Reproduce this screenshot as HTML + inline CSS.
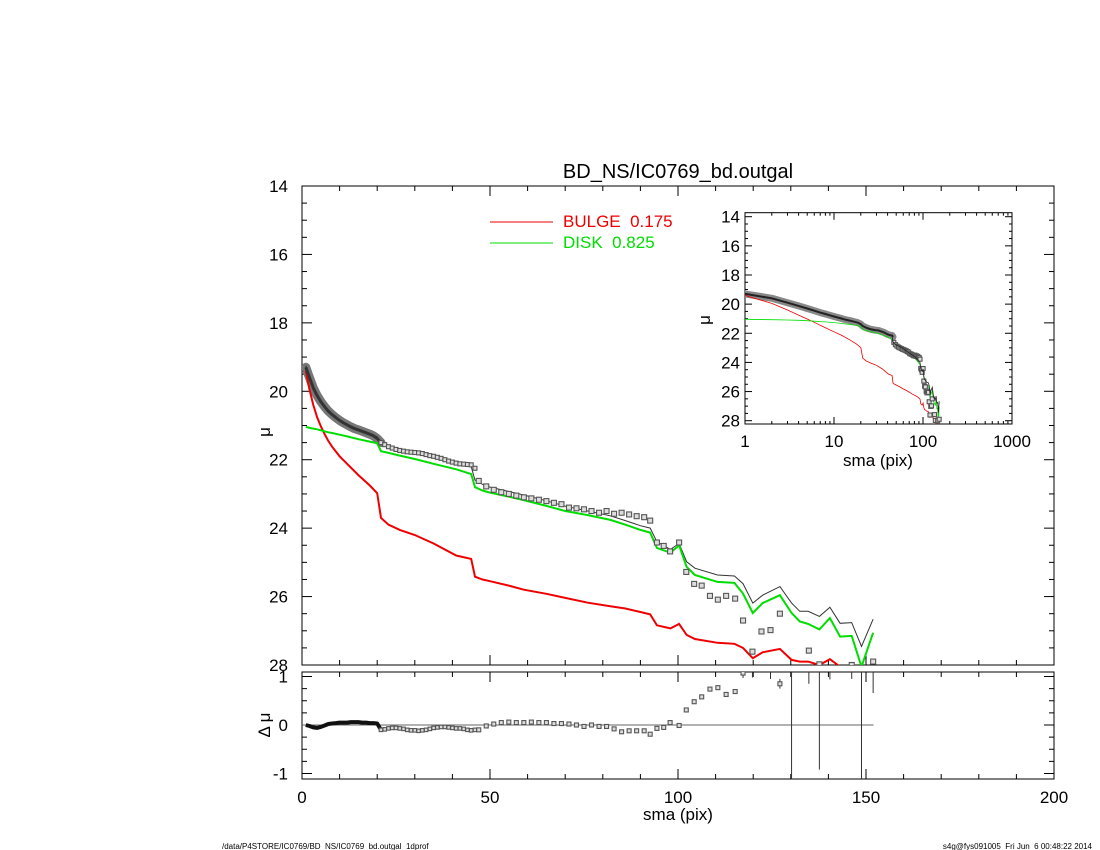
<!DOCTYPE html>
<html><head><meta charset="utf-8">
<style>
html,body{margin:0;padding:0;background:#fff;}
svg{display:block;font-family:"Liberation Sans",sans-serif;}
</style></head>
<body>
<svg id="chart" width="1100" height="850" viewBox="0 0 1100 850" xmlns="http://www.w3.org/2000/svg">
<rect width="1100" height="850" fill="#fff"/>
<text x="678" y="178" font-size="20" text-anchor="middle">BD_NS/IC0769_bd.outgal</text>
<line x1="490" y1="222" x2="553" y2="222" stroke="#e00" stroke-width="1"/>
<text x="563" y="227" font-size="17" fill="#e00">BULGE&#160;&#160;0.175</text>
<line x1="490" y1="243" x2="553" y2="243" stroke="#0d0" stroke-width="1"/>
<text x="563" y="248" font-size="17" fill="#0d0">DISK&#160;&#160;0.825</text>
<text x="270" y="432" font-size="17" text-anchor="middle" transform="rotate(-90 270 432)">μ</text>
<text x="270" y="725" font-size="17" text-anchor="middle" transform="rotate(-90 270 725)">Δ μ</text>
<text x="678" y="820" font-size="17" text-anchor="middle">sma (pix)</text>
<text x="222" y="849" font-size="8">/data/P4STORE/IC0769/BD_NS/IC0769_bd.outgal_1dprof</text>
<text x="1092" y="849" font-size="8" text-anchor="end">s4g@fys091005&#160; Fri Jun&#160; 6 00:48:22 2014</text>
<g id="g"></g>
</svg>
<script>
// model radii and components
const modelR=[1,2,3,4,5,6,7,8,10,12,15,18,20,21,23,26,30,35,41,45,46,48,50,55,59,65,70,76,82,86,90,92.6,94.4,98,100.3,102.3,104.5,110.5,115,117.3,119.9,122.5,127.1,130.2,132.4,134.6,137.6,140.4,143.1,146.2,148.8,151.9];
const bulgeMu=[19.4,19.95,20.4,20.75,21.02,21.25,21.45,21.62,21.9,22.12,22.45,22.75,22.98,23.7,23.9,24.05,24.2,24.45,24.8,24.9,25.42,25.5,25.55,25.68,25.8,25.92,26.04,26.18,26.28,26.35,26.45,26.52,26.84,26.93,26.8,27.12,27.24,27.35,27.38,27.5,27.8,27.63,27.53,27.85,27.9,27.9,28.0,27.83,28.05,28.3,28.5,28.4];
const diskMu=[21.04,21.07,21.09,21.11,21.14,21.17,21.2,21.22,21.27,21.32,21.4,21.47,21.52,21.75,21.8,21.88,21.98,22.12,22.28,22.42,22.8,22.9,22.96,23.08,23.18,23.35,23.5,23.62,23.76,23.9,24.05,24.13,24.58,24.72,24.5,25.13,25.37,25.57,25.6,25.91,26.48,26.19,25.96,26.48,26.73,26.8,26.96,26.63,27.17,27.15,28.05,27.06];
const totalMu=[19.25,19.6,19.9,20.12,20.3,20.45,20.58,20.68,20.85,20.98,21.12,21.24,21.33,21.5,21.6,21.68,21.78,21.92,22.08,22.2,22.6,22.72,22.8,22.93,23.03,23.2,23.36,23.5,23.64,23.78,23.93,24.0,24.4,24.62,24.45,24.98,25.17,25.37,25.4,25.62,26.19,25.96,25.71,26.19,26.43,26.43,26.58,26.31,26.78,26.76,27.46,26.66];
// dense inner data (r = 1..46)
const denseR=[1,2,3,4,5,6,7,8,9,10,11,12,13,14,15,16,17,18,19,20,21,22,23,24,25,26,27,28,29,30,31,32,33,34,35,36,37,38,39,40,41,42,43,44,45,46];
const denseMu=[19.3,19.6,19.9,20.12,20.3,20.45,20.58,20.68,20.77,20.85,20.92,20.98,21.04,21.09,21.13,21.17,21.21,21.25,21.3,21.38,21.5,21.56,21.62,21.66,21.7,21.73,21.75,21.77,21.78,21.79,21.8,21.82,21.85,21.88,21.9,21.93,21.96,22.0,22.04,22.07,22.1,22.12,22.13,22.14,22.15,22.25];
const denseRes=[0,-0.02,-0.05,-0.06,-0.04,-0.01,0.02,0.03,0.04,0.05,0.05,0.05,0.06,0.06,0.06,0.05,0.05,0.04,0.04,0.03,-0.1,-0.09,-0.07,-0.06,-0.06,-0.07,-0.08,-0.1,-0.11,-0.11,-0.12,-0.11,-0.1,-0.08,-0.06,-0.05,-0.04,-0.04,-0.05,-0.06,-0.07,-0.07,-0.08,-0.1,-0.11,-0.1];
// sparse outer data
const sparseR=[47,49,51,53,55,57,59,61,63,65,67,69,71,73,75,77,79,81,83,85,87,89,91,92.6,94.4,96.2,97.9,100.3,102.2,104.3,106.3,108.5,110.6,112.8,115.2,117.3,119.8,122.2,124.6,127.1,134.8,137.6,146.2,151.9];
const sparseMu=[22.62,22.78,22.88,22.95,23.0,23.05,23.1,23.13,23.17,23.21,23.26,23.3,23.4,23.42,23.45,23.5,23.55,23.5,23.58,23.55,23.6,23.65,23.68,23.78,24.42,24.52,24.68,24.42,25.28,25.63,25.68,25.98,26.09,25.98,26.06,26.7,27.61,27.02,26.98,26.5,27.58,27.98,28.0,27.9];
const sparseRes=[-0.1,-0.02,0.02,0.05,0.06,0.05,0.05,0.06,0.05,0.05,0.03,0.03,0.02,0.0,-0.03,0.0,-0.03,-0.03,-0.08,-0.14,-0.12,-0.12,-0.12,-0.19,-0.07,-0.05,0.05,-0.01,0.31,0.48,0.58,0.74,0.77,0.63,0.69,1.07,1.6,1.9,1.7,0.85,1.8,1.9,1.6,1.5];
// residual error bars
const errR=[117.3,119.8,124.6,127.1,130.2,134.8,137.6,140.4,146.2,148.8,151.9];
const errLo=[0.97,0.98,0.95,0.75,-1.2,0.85,-0.92,0.94,0.95,-1.2,0.66];
const errHi=[1.2,1.2,1.2,0.95,1.2,1.2,1.2,1.2,1.2,1.2,1.2];

const NS="http://www.w3.org/2000/svg";
const G=document.getElementById('g');
function mk(t,a,p){const e=document.createElementNS(NS,t);for(const k in a)e.setAttribute(k,a[k]);(p||G).appendChild(e);return e;}
const L=302,R=1054,T=186,B=665;
const X=r=>L+(r/200)*(R-L);
const Y=m=>T+(m-14)/14*(B-T);
const RT=672,RB=779;
const YR=d=>725-d*48.5;
const IL=745,IR=1012,IT=212.7,IB=424;
const XI=r=>IL+Math.log10(r)*89;
const YI=m=>216.7+(m-14)/14*204;

function clip(id,x,y,w,h){const c=mk('clipPath',{id:id});mk('rect',{x:x,y:y,width:w,height:h},c);}
clip('cm',L,T,R-L,B-T);clip('cr',L,RT,R-L,RB-RT);clip('ci',IL,IT,IR-IL,IB-IT);

let f=mk('rect',{x:L,y:T,width:R-L,height:B-T,fill:'none',stroke:'#000','stroke-width':1});

f=mk('rect',{x:L,y:RT,width:R-L,height:RB-RT,fill:'none',stroke:'#000','stroke-width':1});


for(let m=14;m<=28.001;m+=0.5){const y=Y(m),len=(Math.abs(m-Math.round(m/2)*2)<1e-6)?10:5;
 mk('line',{x1:L,y1:y,x2:L+len,y2:y,stroke:'#000'});mk('line',{x1:R,y1:y,x2:R-len,y2:y,stroke:'#000'});
 if(len==10){const t=mk('text',{x:L-14,y:y+6,'font-size':17,'text-anchor':'end'});t.textContent=m;
 
 }}
for(let r=0;r<=200;r+=10){const x=X(r),len=r%50==0?10:5;
 mk('line',{x1:x,y1:B,x2:x,y2:B-len,stroke:'#000'});mk('line',{x1:x,y1:T,x2:x,y2:T+len,stroke:'#000'});
 mk('line',{x1:x,y1:RB,x2:x,y2:RB-len,stroke:'#000'});mk('line',{x1:x,y1:RT,x2:x,y2:RT+len,stroke:'#000'});
 if(r%50==0){const t=mk('text',{x:x,y:803,'font-size':17,'text-anchor':'middle'});t.textContent=r;
 
 }}
for(let d=-1;d<=1.001;d+=0.25){const y=YR(d),len=(Math.abs(d-Math.round(d))<1e-6)?10:5;
 mk('line',{x1:L,y1:y,x2:L+len,y2:y,stroke:'#000'});mk('line',{x1:R,y1:y,x2:R-len,y2:y,stroke:'#000'});
 if(len==10){const t=mk('text',{x:L-14,y:y+6,'font-size':17,'text-anchor':'end'});t.textContent=Math.round(d);
 
 }}

function poly(xs,ys,fx,fy,attrs,cp,name){const pts=xs.map((r,i)=>fx(r).toFixed(1)+','+fy(ys[i]).toFixed(1)).join(' ');
 const p=mk('polyline',Object.assign({points:pts,fill:'none','clip-path':'url(#'+cp+')'},attrs));
 
 return p;}

poly(denseR.slice(0,21),denseMu.slice(0,21),X,Y,{stroke:'#777','stroke-width':9,'stroke-linejoin':'round','stroke-linecap':'round'},'cm','data-inner-band');
poly(modelR,totalMu,X,Y,{stroke:'#333','stroke-width':1},'cm','total-model-line');
poly(modelR,bulgeMu,X,Y,{stroke:'#e00','stroke-width':2},'cm','bulge-line');
poly(modelR,diskMu,X,Y,{stroke:'#0d0','stroke-width':2},'cm','disk-line');
poly(denseR.slice(0,21),denseMu.slice(0,21),X,Y,{stroke:'#333','stroke-width':3,'stroke-linejoin':'round'},'cm','data-inner-core');
function sq(x,y,cp,s,name){const e=mk('rect',{x:x-s/2,y:y-s/2,width:s,height:s,fill:'#ddd',stroke:'#555','stroke-width':1.1,'clip-path':'url(#'+cp+')'});
 
 }
denseR.forEach((r,i)=>{if(r>=21)sq(X(r),Y(denseMu[i]),'cm',4,'data-point');});
sparseR.forEach((r,i)=>sq(X(r),Y(sparseMu[i]),'cm',5,'data-point'));

let zl=mk('line',{x1:L,y1:YR(0),x2:X(152),y2:YR(0),stroke:'#666'});

errR.forEach((r,i)=>{const e=mk('line',{x1:X(r),y1:YR(errLo[i]),x2:X(r),y2:YR(errHi[i]),stroke:'#333','clip-path':'url(#cr)'});
 
 });
poly(denseR.slice(0,21),denseRes.slice(0,21),X,YR,{stroke:'#111','stroke-width':4,'stroke-linejoin':'round'},'cr','residual-inner-band');
denseR.forEach((r,i)=>{if(r>=21)sq(X(r),YR(denseRes[i]),'cr',3.5,'residual-point');});
sparseR.forEach((r,i)=>sq(X(r),YR(sparseRes[i]),'cr',4,'residual-point'));

f=mk('rect',{x:IL,y:IT,width:IR-IL,height:IB-IT,fill:'#fff',stroke:'#000','stroke-width':1});

for(let m=14;m<=28.001;m+=0.5){const y=YI(m),len=(Math.abs(m-Math.round(m/2)*2)<1e-6)?7:3;
 mk('line',{x1:IL,y1:y,x2:IL+len,y2:y,stroke:'#000'});mk('line',{x1:IR,y1:y,x2:IR-len,y2:y,stroke:'#000'});
 if(len==7){const t=mk('text',{x:IL-5,y:y+6,'font-size':17,'text-anchor':'end'});t.textContent=m;
 
 }}
for(let dec=0;dec<3;dec++)for(let k=1;k<=9;k++){const x=XI(k*Math.pow(10,dec)),len=k==1?7:3;
 mk('line',{x1:x,y1:IB,x2:x,y2:IB-len,stroke:'#000'});mk('line',{x1:x,y1:IT,x2:x,y2:IT+len,stroke:'#000'});}
[1,10,100,1000].forEach(v=>{const t=mk('text',{x:XI(v),y:447,'font-size':17,'text-anchor':'middle'});t.textContent=v;
 
 });
let it=mk('text',{x:878,y:466,'font-size':17,'text-anchor':'middle'});it.textContent='sma (pix)';

it=mk('text',{x:710,y:320,'font-size':17,'text-anchor':'middle',transform:'rotate(-90 710 320)'});it.textContent='μ';

poly(denseR,denseMu,XI,YI,{stroke:'#888','stroke-width':7,'stroke-linejoin':'round','stroke-linecap':'round'},'ci','inset-data-band');
poly(modelR,bulgeMu,XI,YI,{stroke:'#e00','stroke-width':0.8},'ci','inset-bulge-line');
poly(modelR,diskMu,XI,YI,{stroke:'#0d0','stroke-width':0.8},'ci','inset-disk-line');
poly(denseR,denseMu,XI,YI,{stroke:'#222','stroke-width':2},'ci','inset-data-core');
sparseR.forEach((r,i)=>sq(XI(r),YI(sparseMu[i]),'ci',4,'inset-data-point'));
poly(modelR,totalMu,XI,YI,{stroke:'#222','stroke-width':0.8},'ci','inset-total-line');
</script>
</body></html>
